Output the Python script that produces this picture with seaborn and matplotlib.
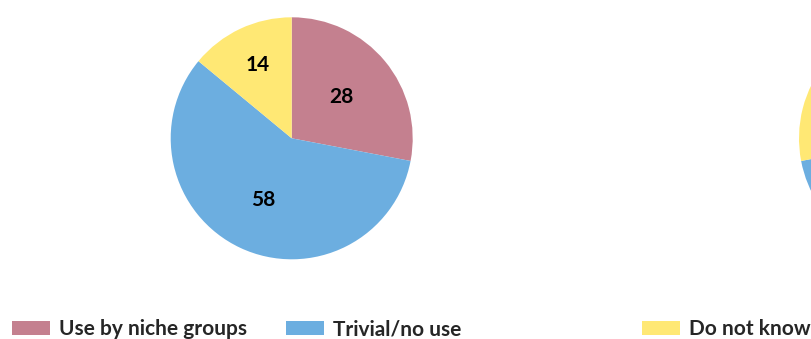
import numpy as np
import matplotlib
matplotlib.use("Agg")
import matplotlib.pyplot as plt
from matplotlib.patches import Patch
import seaborn as sns

sns.set_theme(style="white")
plt.rcParams["font.family"] = ["Lato", "DejaVu Sans"]

# Survey answers (percent) for two groups
categories = ["Use by niche groups", "Trivial/no use", "Do not know"]
group_a = [28, 58, 14]
group_b = [22, 50, 28]
colors = ["#C4808F", "#6CAEE0", "#FFE874"]
# radial position of each value label, as a fraction of the radius
label_dist = [0.53, 0.56, 0.67]

W, H = 812, 339
fig = plt.figure(figsize=(W / 100, H / 100), dpi=100)
fig.patch.set_facecolor("white")

R = 121  # pie radius in pixels


def pie_axes(cx, cy):
    left = (cx - R) / W
    bottom = (H - cy - R) / H
    return fig.add_axes([left, bottom, 2 * R / W, 2 * R / H])


def finish(ax):
    ax.set_xlim(-1, 1)
    ax.set_ylim(-1, 1)
    ax.set_axis_off()


ax1 = pie_axes(291.7, 138.3)
wedges, _ = ax1.pie(group_a, colors=colors, startangle=90, counterclock=False,
                    radius=1, wedgeprops=dict(linewidth=0))
finish(ax1)
for w, v, d in zip(wedges, group_a, label_dist):
    ang = np.deg2rad((w.theta1 + w.theta2) / 2)
    ax1.text(d * np.cos(ang), d * np.sin(ang), f"{v}", ha="center", va="center",
             fontsize=15, fontweight="bold", color="black")

ax2 = pie_axes(920, 138.3)
ax2.pie(group_b, colors=colors, startangle=90, counterclock=False,
        radius=1, wedgeprops=dict(linewidth=0))
finish(ax2)

# legend entries along the bottom
fs = 15
fs_px = fs * 100 / 72
patch_x = [12, 286, 642]
for name, col, x in zip(categories, colors, patch_x):
    fig.legend(handles=[Patch(facecolor=col, edgecolor="none")], labels=[name],
               loc="center left", bbox_to_anchor=(x / W, 1 - 329 / H),
               frameon=False, prop=dict(weight="bold", size=fs),
               handlelength=38 / fs_px, handleheight=14 / fs_px,
               handletextpad=9 / fs_px, borderpad=0, borderaxespad=0)

fig.savefig("out.png", dpi=100, facecolor="white")
